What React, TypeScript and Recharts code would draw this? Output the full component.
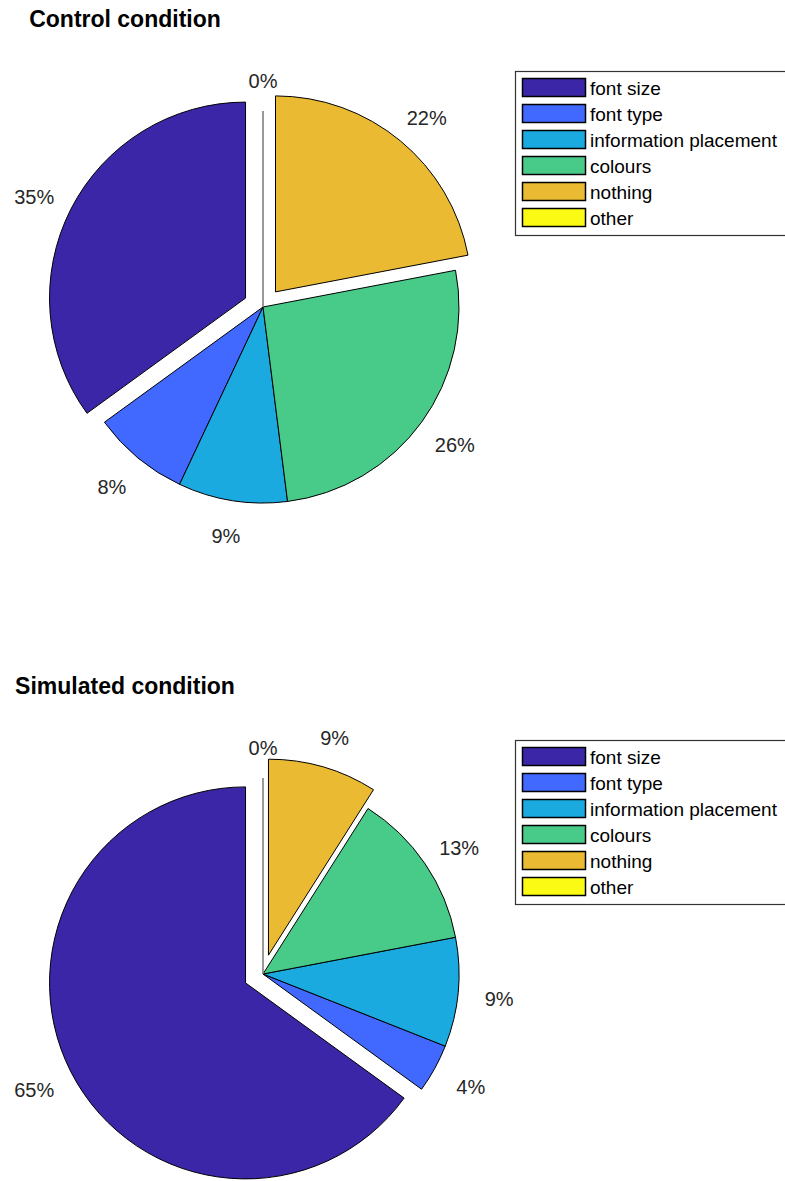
import { PieChart, Pie, Cell } from "recharts";

const categories = [
  "font size",
  "font type",
  "information placement",
  "colours",
  "nothing",
  "other",
];
const sliceColors = ["#3C26A8", "#4169FF", "#1BAADF", "#48CB89", "#E9BA32", "#FAFA14"];

const controlValues = [35, 8, 9, 26, 22, 0];
const simulatedValues = [65, 4, 9, 13, 9, 0];

// which slices are pulled out from the centre
const controlExplode = [true, false, false, false, true, false];
const simulatedExplode = [true, false, false, false, true, false];

const W = 785;
const PANEL_H = 590;
const CX = 263;
const CY = 307;
const R = 196;
const RAD = Math.PI / 180;
const FONT = "'Liberation Sans', Arial, Helvetica, sans-serif";

type Offset = [number, number];

function explodeOffsets(values: number[], flags: boolean[], r: number): Offset[] {
  const total = values.reduce((a, b) => a + b, 0);
  let acc = 0;
  return values.map((v, i) => {
    const mid = 90 + ((acc + v / 2) / total) * 360;
    acc += v;
    if (!flags[i]) return [0, 0];
    return [0.1 * r * Math.cos(mid * RAD), -0.1 * r * Math.sin(mid * RAD)];
  });
}

function makeLabel(offsets: Offset[]) {
  return (props: any) => {
    const { cx, cy, midAngle, startAngle, outerRadius, index, value } = props;
    const [dx, dy] = offsets[index];
    const x = cx + dx + 1.21 * outerRadius * Math.cos(-midAngle * RAD);
    const y = cy + dy + 1.17 * outerRadius * Math.sin(-midAngle * RAD) + 3;
    return (
      <g key={`lbl-${index}`}>
        {value === 0 && (
          <line
            x1={cx + dx}
            y1={cy + dy}
            x2={cx + dx + outerRadius * Math.cos(-startAngle * RAD)}
            y2={cy + dy + outerRadius * Math.sin(-startAngle * RAD)}
            stroke="#777"
            strokeWidth={1.5}
          />
        )}
        <text
          x={x}
          y={y}
          textAnchor="middle"
          dominantBaseline="central"
          fill="#262626"
          fontSize={20}
          fontFamily={FONT}
        >
          {`${value}%`}
        </text>
      </g>
    );
  };
}

function LegendBox({ top }: { top: number }) {
  return (
    <svg width={W} height={180} style={{ position: "absolute", left: 0, top: top - 8 }}>
      <rect x={515.5} y={8.5} width={300} height={164} fill="#fff" stroke="#333" strokeWidth={1.2} />
      {categories.map((name, i) => (
        <g key={name}>
          <rect
            x={522.5}
            y={15.5 + 26 * i}
            width={63}
            height={18}
            fill={sliceColors[i]}
            stroke="#000"
            strokeWidth={1.5}
          />
          <text x={590} y={32 + 26 * i} fontSize={19} fontFamily={FONT} fill="#000">
            {name}
          </text>
        </g>
      ))}
    </svg>
  );
}

function PiePanel({
  title,
  values,
  explode,
  top,
}: {
  title: string;
  values: number[];
  explode: boolean[];
  top: number;
}) {
  const rows = categories.map((name, i) => ({ name, value: values[i] }));
  const offsets = explodeOffsets(values, explode, R);
  return (
    <div style={{ position: "absolute", left: 0, top, width: W, height: PANEL_H }}>
      <PieChart width={W} height={PANEL_H} margin={{ top: 0, right: 0, bottom: 0, left: 0 }}>
        <Pie
          data={rows}
          dataKey="value"
          nameKey="name"
          cx={CX}
          cy={CY}
          outerRadius={R}
          startAngle={90}
          endAngle={450}
          stroke="#000"
          strokeWidth={1}
          label={makeLabel(offsets)}
          labelLine={false}
          isAnimationActive={false}
        >
          {rows.map((row, i) => (
            <Cell
              key={row.name}
              fill={sliceColors[i]}
              transform={`translate(${offsets[i][0]}, ${offsets[i][1]})`}
            />
          ))}
        </Pie>
      </PieChart>
      <svg
        width={W}
        height={40}
        style={{ position: "absolute", left: 0, top: 0, pointerEvents: "none" }}
      >
        <text
          x={125}
          y={27}
          textAnchor="middle"
          fontSize={23}
          fontWeight="bold"
          fontFamily={FONT}
          fill="#000"
        >
          {title}
        </text>
      </svg>
    </div>
  );
}

export default function App() {
  return (
    <div
      style={{
        position: "absolute",
        left: 0,
        top: 0,
        width: W,
        height: 1181,
        overflow: "hidden",
        background: "#fff",
      }}
    >
      <PiePanel title="Control condition" values={controlValues} explode={controlExplode} top={0} />
      <PiePanel
        title="Simulated condition"
        values={simulatedValues}
        explode={simulatedExplode}
        top={667}
      />
      <LegendBox top={71} />
      <LegendBox top={740} />
    </div>
  );
}
